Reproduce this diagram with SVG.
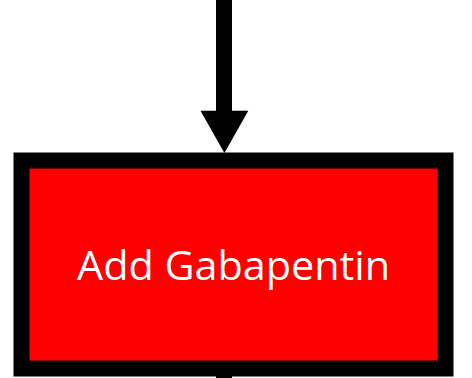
<svg xmlns="http://www.w3.org/2000/svg" width="472" height="378" viewBox="0 0 472 378">
  <style>
    .edge { stroke: #000; stroke-width: 16; fill: none; }
    .head { fill: #000; }
    .box { fill: #ff0000; stroke: #000; stroke-width: 16; }
    .label { font-family: "Open Sans", "Noto Sans", sans-serif; font-size: 40px; fill: #fff; text-anchor: middle; }
  </style>
  <g id="connectors">
    <line class="edge" x1="224" y1="0" x2="224" y2="112"/>
    <polygon class="head" points="200.5,110.7 248.3,110.7 224.4,153"/>
    <line class="edge" x1="224" y1="368" x2="224" y2="378"/>
  </g>
  <g id="node-gabapentin">
    <rect class="box" x="21.5" y="160.5" width="424" height="208"/>
    <text class="label" x="233.5" y="280" textLength="313" lengthAdjust="spacingAndGlyphs">Add Gabapentin</text>
  </g>
</svg>
